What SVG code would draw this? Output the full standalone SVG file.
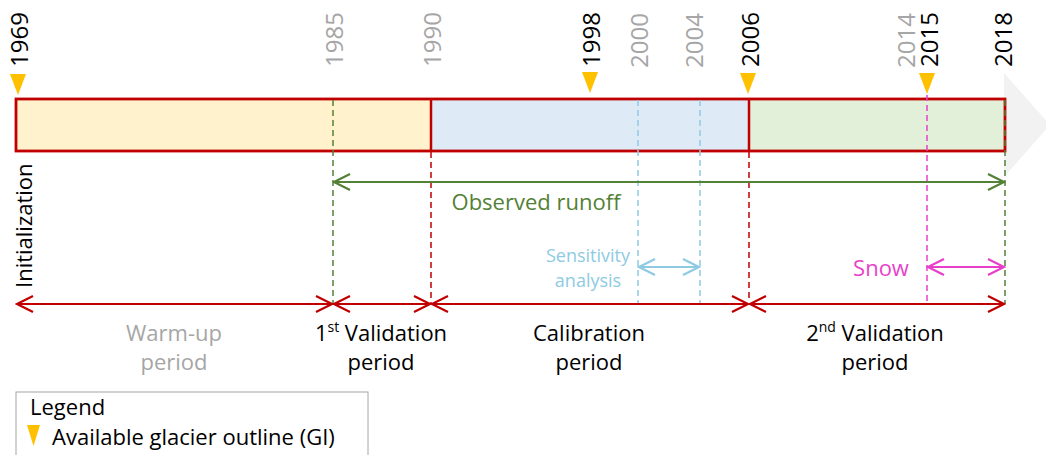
<svg xmlns="http://www.w3.org/2000/svg" width="1046" height="455" viewBox="0 0 1046 455">
  <style>
    text { font-family: "Open Sans", "Liberation Sans", sans-serif; font-size: 22px; }
    .yr { font-size: 24px; }
    .yb { fill: #000000; }
    .yg { fill: #A6A6A6; }
    .gi { fill: #FFC000; }
    .dash { fill: none; stroke-width: 1.5; stroke-dasharray: 6 4; }
    .arr { fill: none; stroke-width: 2.2; }
    .red { stroke: #C00000; }
    .grn { stroke: #538135; }
    .blu { stroke: #8ECBE3; }
    .mag { stroke: #E83FCB; }
    .lbl { text-anchor: middle; }
  </style>
  <defs>
    <marker id="hRed" viewBox="-18 -10 20 20" refX="0" refY="0" markerWidth="20" markerHeight="20" markerUnits="userSpaceOnUse" orient="auto-start-reverse">
      <path d="M-16,-8 L0,0 L-16,8" fill="none" stroke="#C00000" stroke-width="2.2"/>
    </marker>
    <marker id="hGrn" viewBox="-18 -10 20 20" refX="0" refY="0" markerWidth="20" markerHeight="20" markerUnits="userSpaceOnUse" orient="auto-start-reverse">
      <path d="M-16,-8 L0,0 L-16,8" fill="none" stroke="#538135" stroke-width="2.2"/>
    </marker>
    <marker id="hBlu" viewBox="-18 -10 20 20" refX="0" refY="0" markerWidth="20" markerHeight="20" markerUnits="userSpaceOnUse" orient="auto-start-reverse">
      <path d="M-16,-8 L0,0 L-16,8" fill="none" stroke="#8ECBE3" stroke-width="2.2"/>
    </marker>
    <marker id="hMag" viewBox="-18 -10 20 20" refX="0" refY="0" markerWidth="20" markerHeight="20" markerUnits="userSpaceOnUse" orient="auto-start-reverse">
      <path d="M-16,-8 L0,0 L-16,8" fill="none" stroke="#E83FCB" stroke-width="2.2"/>
    </marker>
  </defs>

  <rect width="1046" height="455" fill="#FFFFFF"/>

  <!-- timeline arrow tip behind the bar -->
  <polygon id="timeline-tip" points="1004,73 1050,125 1004,177" fill="#F2F2F2"/>

  <!-- period bar -->
  <g id="bar">
    <rect x="16" y="99" width="415" height="52" fill="#FFF2CC"/>
    <rect x="431" y="99" width="318" height="52" fill="#DEEBF7"/>
    <rect x="749" y="99" width="256" height="52" fill="#E2F0D9"/>
    <line x1="431" y1="99" x2="431" y2="151" stroke="#C00000" stroke-width="2.5"/>
    <line x1="749" y1="99" x2="749" y2="151" stroke="#C00000" stroke-width="2.5"/>
    <rect x="16" y="99" width="989" height="52" fill="none" stroke="#C00000" stroke-width="2.8"/>
  </g>

  <!-- year labels -->
  <g id="years" class="yr">
    <text class="yr yb" transform="translate(28,67) rotate(-90)">1969</text>
    <text class="yr yg" transform="translate(343,67) rotate(-90)">1985</text>
    <text class="yr yg" transform="translate(441,67) rotate(-90)">1990</text>
    <text class="yr yb" transform="translate(600,67) rotate(-90)">1998</text>
    <text class="yr yg" transform="translate(648,68) rotate(-90)">2000</text>
    <text class="yr yg" transform="translate(703,68) rotate(-90)">2004</text>
    <text class="yr yb" transform="translate(759,67) rotate(-90)">2006</text>
    <text class="yr yg" transform="translate(915,68) rotate(-90)">2014</text>
    <text class="yr yb" transform="translate(938,67) rotate(-90)">2015</text>
    <text class="yr yb" transform="translate(1012,67) rotate(-90)">2018</text>
  </g>

  <!-- available glacier outlines -->
  <g id="glacier-outlines">
    <polygon class="gi" points="10,74 26,74 18,95"/>
    <polygon class="gi" points="582,72 598,72 590,93"/>
    <polygon class="gi" points="740,73 756,73 748,94"/>
    <polygon class="gi" points="919,73 935,73 927,94"/>
  </g>

  <!-- period boundaries and span arrows -->
  <g id="connectors">
    <line class="dash grn" x1="333" y1="100" x2="333" y2="304"/>
    <line class="dash red" x1="431" y1="152" x2="431" y2="304"/>
    <line class="dash blu" x1="638" y1="100" x2="638" y2="304"/>
    <line class="dash blu" x1="700" y1="100" x2="700" y2="304"/>
    <line class="dash red" x1="749" y1="152" x2="749" y2="300"/>
    <line class="dash mag" x1="927" y1="95" x2="927" y2="304"/>
    <line class="dash grn" x1="1005" y1="100" x2="1005" y2="304"/>

    <line class="arr grn" x1="334" y1="182" x2="1004" y2="182" marker-start="url(#hGrn)" marker-end="url(#hGrn)"/>
    <line class="arr blu" x1="639" y1="267" x2="699" y2="267" marker-start="url(#hBlu)" marker-end="url(#hBlu)"/>
    <line class="arr mag" x1="928" y1="267" x2="1004" y2="267" marker-start="url(#hMag)" marker-end="url(#hMag)"/>

    <line class="arr red" x1="17" y1="304" x2="332" y2="304" marker-start="url(#hRed)" marker-end="url(#hRed)"/>
    <line class="arr red" x1="334" y1="304" x2="430" y2="304" marker-start="url(#hRed)" marker-end="url(#hRed)"/>
    <line class="arr red" x1="432" y1="304" x2="748" y2="304" marker-start="url(#hRed)" marker-end="url(#hRed)"/>
    <line class="arr red" x1="750" y1="304" x2="1004" y2="304" marker-start="url(#hRed)" marker-end="url(#hRed)"/>
  </g>

  <g id="initialization">
    <text transform="translate(32,288) rotate(-90)" fill="#000000">Initialization</text>
  </g>

  <g id="observed-runoff">
    <text class="lbl" x="536" y="210" fill="#538135">Observed runoff</text>
  </g>

  <g id="sensitivity">
    <text class="lbl" x="588" y="262" fill="#8ECBE3" style="font-size:18px">Sensitivity</text>
    <text class="lbl" x="588" y="287" fill="#8ECBE3" style="font-size:18px">analysis</text>
  </g>

  <g id="snow">
    <text class="lbl" x="881" y="276" fill="#E83FCB">Snow</text>
  </g>

  <g id="warm-up">
    <text class="lbl" x="174" y="341" fill="#A6A6A6">Warm-up</text>
    <text class="lbl" x="174" y="370" fill="#A6A6A6">period</text>
  </g>

  <g id="validation-1">
    <text class="lbl" x="381" y="341" fill="#000000">1<tspan style="font-size:14px" dy="-9">st</tspan><tspan dy="9"> Validation</tspan></text>
    <text class="lbl" x="381" y="370" fill="#000000">period</text>
  </g>

  <g id="calibration">
    <text class="lbl" x="589" y="341" fill="#000000">Calibration</text>
    <text class="lbl" x="589" y="370" fill="#000000">period</text>
  </g>

  <g id="validation-2">
    <text class="lbl" x="875" y="341" fill="#000000">2<tspan style="font-size:14px" dy="-9">nd</tspan><tspan dy="9"> Validation</tspan></text>
    <text class="lbl" x="875" y="370" fill="#000000">period</text>
  </g>

  <g id="legend">
    <rect x="16" y="392" width="352" height="75" fill="#FFFFFF" stroke="#A6A6A6" stroke-width="1"/>
    <text x="30" y="415" fill="#000000">Legend</text>
    <polygon class="gi" points="27,425 40,425 33.5,446"/>
    <text x="52" y="445" fill="#000000">Available glacier outline (GI)</text>
  </g>
</svg>
